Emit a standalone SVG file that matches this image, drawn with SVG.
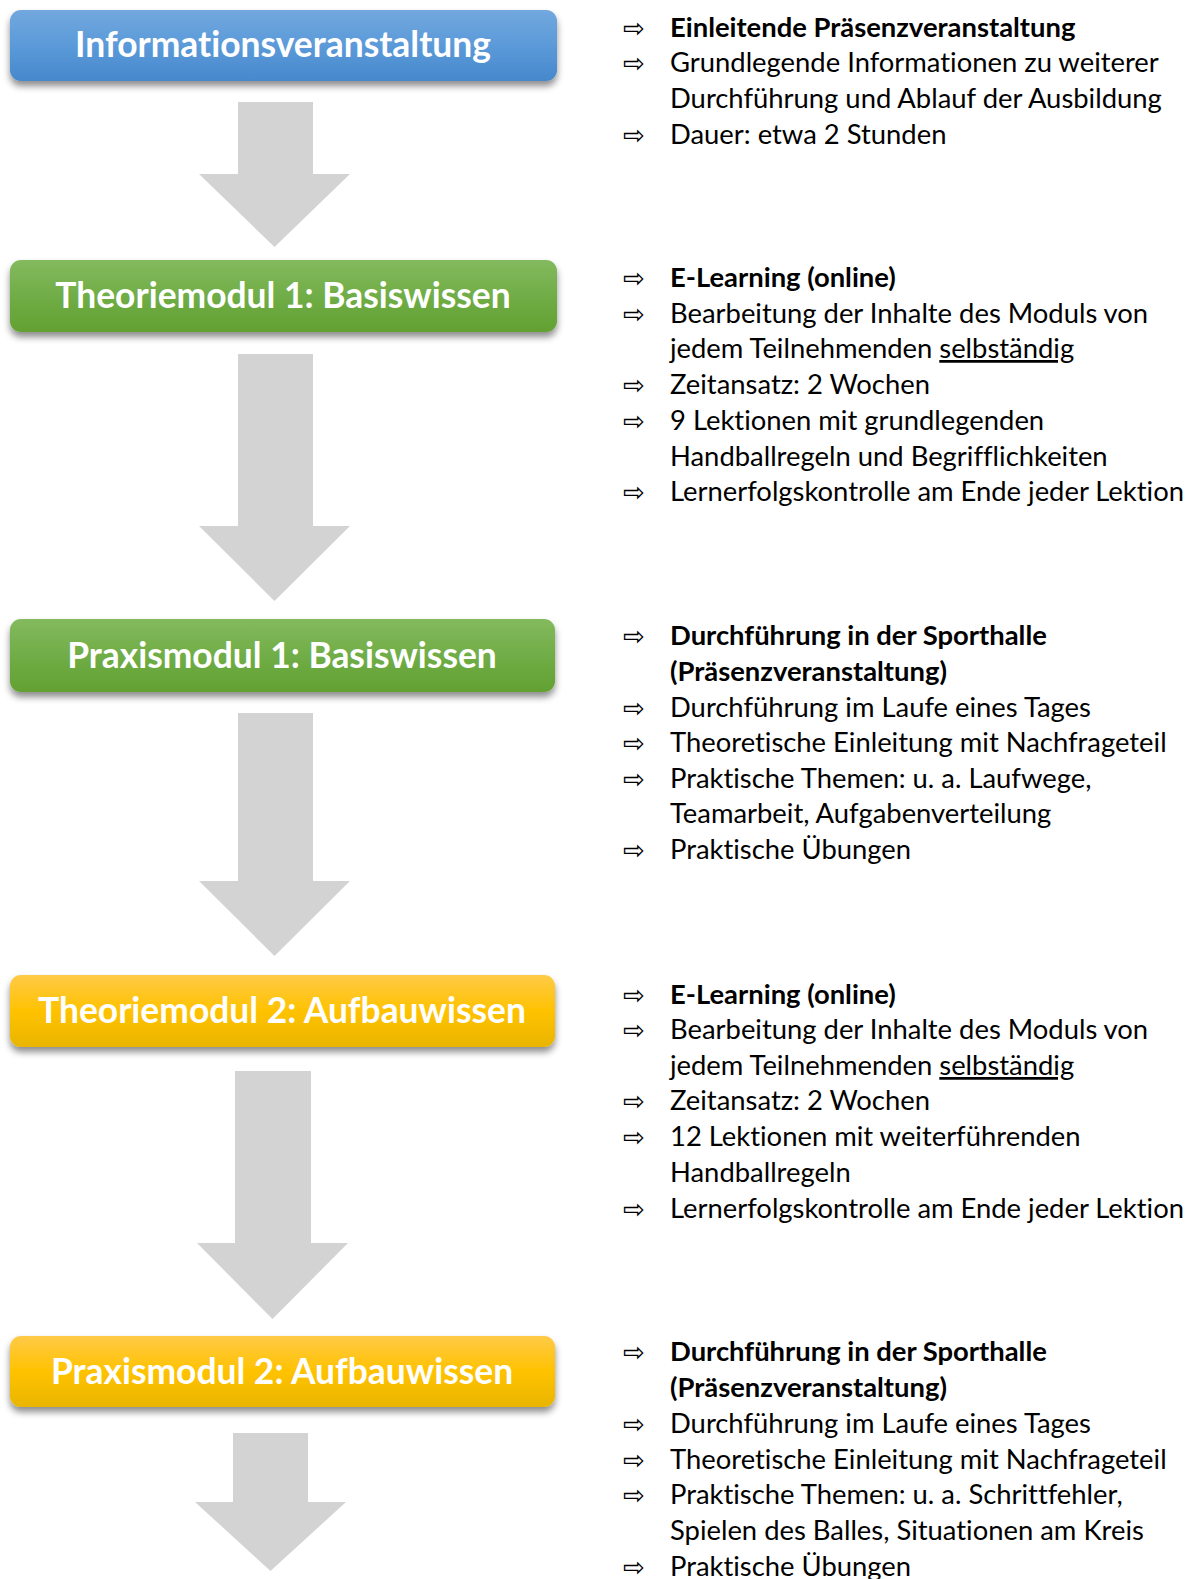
<svg xmlns="http://www.w3.org/2000/svg" width="1192" height="1579" viewBox="0 0 1192 1579">
<style>
text{font-variant-ligatures:none}
.bt{font-family:Lato,"Open Sans",sans-serif;font-weight:bold;font-size:35.4px;fill:#fff;text-anchor:middle}
.t{font-family:Lato,"Open Sans",sans-serif;font-size:27.4px;fill:#000}
.b{font-weight:bold}
.ar{font-family:"DejaVu Sans",sans-serif;font-size:26px;fill:#000}
.u{text-decoration:underline}
.conn polygon{fill:#d3d3d3}
</style>
<defs>
<linearGradient id="gBlue" x1="0" y1="0" x2="0" y2="1"><stop offset="0" stop-color="#72a8de"/><stop offset="0.5" stop-color="#5b9ad9"/><stop offset="1" stop-color="#4688cc"/></linearGradient>
<linearGradient id="gGreen" x1="0" y1="0" x2="0" y2="1"><stop offset="0" stop-color="#84ba5e"/><stop offset="0.5" stop-color="#70ad47"/><stop offset="1" stop-color="#62a131"/></linearGradient>
<linearGradient id="gYellow" x1="0" y1="0" x2="0" y2="1"><stop offset="0" stop-color="#ffca48"/><stop offset="0.5" stop-color="#ffc200"/><stop offset="1" stop-color="#e9b500"/></linearGradient>
<filter id="sh" x="-5%" y="-20%" width="110%" height="150%"><feDropShadow dx="0" dy="5" stdDeviation="3.5" flood-color="#000" flood-opacity="0.45"/></filter>
</defs>
<g class="conn" id="connectors">
<polygon points="238,102 313,102 313,174 350,174 274.5,247 199,174 238,174"/>
<polygon points="238,354 313,354 313,526 350,526 274.5,601 199,526 238,526"/>
<polygon points="238,713 313,713 313,881 350,881 274.5,956 199,881 238,881"/>
<polygon points="235,1071 311,1071 311,1243 348,1243 272.5,1319 197,1243 235,1243"/>
<polygon points="233,1433 308,1433 308,1502 346,1502 270.5,1571 195,1502 233,1502"/>
</g>
<g id="n1"><rect x="10" y="10" width="547" height="71" rx="11" fill="url(#gBlue)" filter="url(#sh)"/><text class="bt" x="283" y="57">Informationsveranstaltung</text></g>
<g id="n2"><rect x="10" y="260" width="547" height="72" rx="11" fill="url(#gGreen)" filter="url(#sh)"/><text class="bt" x="283" y="308">Theoriemodul 1: Basiswissen</text></g>
<g id="n3"><rect x="10" y="619" width="545" height="73" rx="11" fill="url(#gGreen)" filter="url(#sh)"/><text class="bt" x="282" y="668">Praxismodul 1: Basiswissen</text></g>
<g id="n4"><rect x="10" y="975" width="545" height="72" rx="11" fill="url(#gYellow)" filter="url(#sh)"/><text class="bt" x="282" y="1023">Theoriemodul 2: Aufbauwissen</text></g>
<g id="n5"><rect x="10" y="1336" width="545" height="71" rx="11" fill="url(#gYellow)" filter="url(#sh)"/><text class="bt" x="282" y="1384">Praxismodul 2: Aufbauwissen</text></g>
<g id="d1">
<text class="ar" x="623" y="37">⇨</text><text class="t b" x="670" y="37">Einleitende Präsenzveranstaltung</text>
<text class="ar" x="623" y="72">⇨</text><text class="t" x="670" y="72">Grundlegende Informationen zu weiterer</text>
<text class="t" x="670" y="108">Durchführung und Ablauf der Ausbildung</text>
<text class="ar" x="623" y="144">⇨</text><text class="t" x="670" y="144">Dauer: etwa 2 Stunden</text>
</g>
<g id="d2">
<text class="ar" x="623" y="287">⇨</text><text class="t b" x="670" y="287">E-Learning (online)</text>
<text class="ar" x="623" y="323">⇨</text><text class="t" x="670" y="323">Bearbeitung der Inhalte des Moduls von</text>
<text class="t" x="670" y="358">jedem Teilnehmenden <tspan class="u">selbständig</tspan></text>
<text class="ar" x="623" y="394">⇨</text><text class="t" x="670" y="394">Zeitansatz: 2 Wochen</text>
<text class="ar" x="623" y="430">⇨</text><text class="t" x="670" y="430">9 Lektionen mit grundlegenden</text>
<text class="t" x="670" y="466">Handballregeln und Begrifflichkeiten</text>
<text class="ar" x="623" y="501">⇨</text><text class="t" x="670" y="501">Lernerfolgskontrolle am Ende jeder Lektion</text>
</g>
<g id="d3">
<text class="ar" x="623" y="645">⇨</text><text class="t b" x="670" y="645">Durchführung in der Sporthalle</text>
<text class="t b" x="670" y="681">(Präsenzveranstaltung)</text>
<text class="ar" x="623" y="717">⇨</text><text class="t" x="670" y="717">Durchführung im Laufe eines Tages</text>
<text class="ar" x="623" y="752">⇨</text><text class="t" x="670" y="752">Theoretische Einleitung mit Nachfrageteil</text>
<text class="ar" x="623" y="788">⇨</text><text class="t" x="670" y="788">Praktische Themen: u. a. Laufwege,</text>
<text class="t" x="670" y="823">Teamarbeit, Aufgabenverteilung</text>
<text class="ar" x="623" y="859">⇨</text><text class="t" x="670" y="859">Praktische Übungen</text>
</g>
<g id="d4">
<text class="ar" x="623" y="1004">⇨</text><text class="t b" x="670" y="1004">E-Learning (online)</text>
<text class="ar" x="623" y="1039">⇨</text><text class="t" x="670" y="1039">Bearbeitung der Inhalte des Moduls von</text>
<text class="t" x="670" y="1075">jedem Teilnehmenden <tspan class="u">selbständig</tspan></text>
<text class="ar" x="623" y="1110">⇨</text><text class="t" x="670" y="1110">Zeitansatz: 2 Wochen</text>
<text class="ar" x="623" y="1146">⇨</text><text class="t" x="670" y="1146">12 Lektionen mit weiterführenden</text>
<text class="t" x="670" y="1182">Handballregeln</text>
<text class="ar" x="623" y="1218">⇨</text><text class="t" x="670" y="1218">Lernerfolgskontrolle am Ende jeder Lektion</text>
</g>
<g id="d5">
<text class="ar" x="623" y="1361">⇨</text><text class="t b" x="670" y="1361">Durchführung in der Sporthalle</text>
<text class="t b" x="670" y="1397">(Präsenzveranstaltung)</text>
<text class="ar" x="623" y="1433">⇨</text><text class="t" x="670" y="1433">Durchführung im Laufe eines Tages</text>
<text class="ar" x="623" y="1469">⇨</text><text class="t" x="670" y="1469">Theoretische Einleitung mit Nachfrageteil</text>
<text class="ar" x="623" y="1504">⇨</text><text class="t" x="670" y="1504">Praktische Themen: u. a. Schrittfehler,</text>
<text class="t" x="670" y="1540">Spielen des Balles, Situationen am Kreis</text>
<text class="ar" x="623" y="1576">⇨</text><text class="t" x="670" y="1576">Praktische Übungen</text>
</g>
</svg>
